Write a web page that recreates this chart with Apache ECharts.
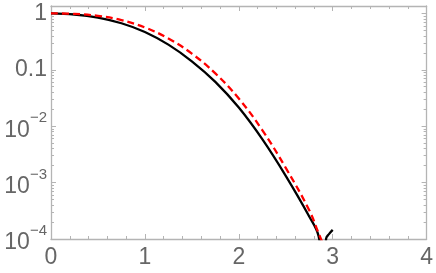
<!DOCTYPE html>
<html>
<head>
<meta charset="utf-8">
<script src="https://cdn.jsdelivr.net/npm/echarts@6/dist/echarts.min.js"></script>
<style>
  html, body { margin: 0; padding: 0; background: #fff; }
  #chart { width: 436px; height: 273px; }
</style>
</head>
<body>
<div id="chart"></div>
<script>
// ---- data ----
const blackX = [0, 0.25, 0.5, 0.75, 1.0, 1.25, 1.5, 1.75, 2.0, 2.25, 2.5, 2.75, 2.85, 2.88, 2.9, 2.93, 2.96, 3.0];
const blackY = [1, 0.955, 0.841, 0.668, 0.468, 0.279, 0.1413, 0.0610, 0.02138, 0.005888, 0.001318, 0.0002512, 0.0001122, 0.00003, 0.00001, 0.000102, 0.000122, 0.000145];

const redX = [0, 0.25, 0.5, 0.75, 1.0, 1.25, 1.5, 1.75, 2.0, 2.25, 2.5, 2.75, 2.85, 2.9];
const redY = [1, 0.977, 0.902, 0.759, 0.562, 0.359, 0.193, 0.0861, 0.0309, 0.00851, 0.00182, 0.000324, 0.000126, 0.0000794];

const yTickValues = [0.0001, 0.001, 0.01, 0.1, 1];
const yTickLabels = ['{b|10}{s|\u22124}', '{b|10}{s|\u22123}', '{b|10}{s|\u22122}', '0.1', '1'];
const xTickValues = [0, 1, 2, 3, 4];
const xTickLabels = ['0', '1', '2', '3', '4'];

const yMin = 0.0001, yMax = 1.35;
const yMinorTicks = [];
for (let e = -4; e <= -1; e++) {
  for (let m = 2; m <= 9; m++) yMinorTicks.push(+(m * Math.pow(10, e)).toPrecision(3));
}

// ---- chart ----
const frameColor = '#b4b4b4';
const labelColor = '#666666';
const fontFamily = 'Liberation Sans, Arial, sans-serif';

function pairs(xs, ys) { return xs.map((x, i) => [x, ys[i]]); }

function xAxisDef(pos, showLabel) {
  return {
    type: 'value', position: pos, min: 0, max: 4, interval: 1,
    axisLine: { show: true, onZero: false, lineStyle: { color: frameColor, width: 1.3 } },
    axisTick: { show: true, inside: true, length: 5, lineStyle: { color: frameColor } },
    minorTick: { show: true, splitNumber: 5, length: 3, lineStyle: { color: frameColor } },
    splitLine: { show: false },
    axisLabel: {
      show: showLabel, margin: 7, color: labelColor, fontSize: 23, fontFamily: fontFamily,
      formatter: v => { const i = xTickValues.indexOf(v); return i >= 0 ? xTickLabels[i] : ''; }
    }
  };
}

function yAxisDef(pos, showLabel, minor) {
  const ax = {
    type: 'log', logBase: 10, position: pos, min: yMin, max: yMax,
    axisLine: { show: !minor, onZero: false, lineStyle: { color: frameColor, width: 1.3 } },
    axisTick: { show: true, inside: true, length: minor ? 3 : 5, lineStyle: { color: frameColor },
      customValues: minor ? yMinorTicks : yTickValues },
    splitLine: { show: false },
    axisLabel: { show: false }
  };
  if (showLabel) {
    ax.axisLabel = {
      show: true, margin: 4, color: labelColor, fontSize: 23, fontFamily: fontFamily,
      customValues: yTickValues,
      formatter: v => {
        let i = -1, best = 1e9;
        yTickValues.forEach((t, k) => { const d = Math.abs(Math.log10(t) - Math.log10(v)); if (d < best) { best = d; i = k; } });
        return best < 1e-6 ? yTickLabels[i] : '';
      },
      rich: {
        b: { fontSize: 23, fontFamily: fontFamily, color: labelColor, lineHeight: 31, verticalAlign: 'bottom' },
        s: { fontSize: 15, fontFamily: fontFamily, color: labelColor, lineHeight: 15, verticalAlign: 'top' }
      }
    };
  }
  return ax;
}

const chart = echarts.init(document.getElementById('chart'), null, { renderer: 'canvas' });
chart.setOption({
  animation: false,
  backgroundColor: '#ffffff',
  grid: { left: 51, right: 8, top: 6, bottom: 34 },
  xAxis: [xAxisDef('bottom', true), xAxisDef('top', false)],
  yAxis: [
    yAxisDef('left', true, false),
    yAxisDef('right', false, false),
    yAxisDef('left', false, true),
    yAxisDef('right', false, true)
  ],
  series: [
    {
      type: 'line', xAxisIndex: 0, yAxisIndex: 0,
      data: pairs(blackX, blackY), showSymbol: false, smooth: 0.4, clip: true,
      lineStyle: { color: '#000000', width: 2.3 }, z: 2
    },
    {
      type: 'line', xAxisIndex: 0, yAxisIndex: 0,
      data: pairs(redX, redY), showSymbol: false, smooth: 0.4, clip: true,
      lineStyle: { color: '#ff0000', width: 2.3, type: [7, 4] }, z: 3
    }
  ]
});
</script>
</body>
</html>
